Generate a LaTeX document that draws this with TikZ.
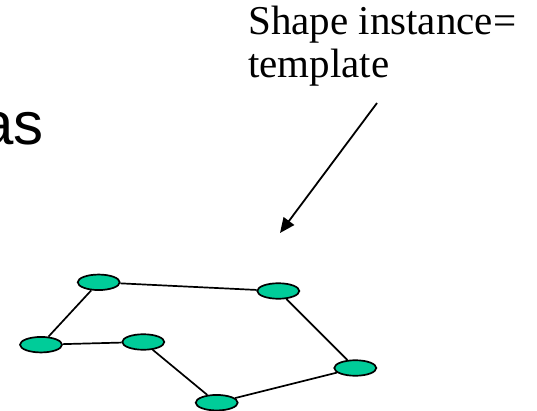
\documentclass[tikz,border=0pt]{standalone}
\usepackage{fontspec}
\setmainfont{Liberation Serif}
\setsansfont{Liberation Sans}
\usetikzlibrary{shapes.geometric,arrows.meta}
\definecolor{vertexgreen}{RGB}{0,204,153}
\tikzset{
  vertex/.style={ellipse, draw=black, line width=1.7pt, fill=vertexgreen,
                 minimum width=42pt, minimum height=15.5pt, inner sep=0pt},
  link/.style={draw=black, line width=1.7pt},
  pointer/.style={draw=black, line width=1.8pt, -{Triangle[length=15pt,width=13pt]}}
}
\begin{document}
\begin{tikzpicture}[x=1pt,y=-1pt]
  \useasboundingbox (0,0) rectangle (537,411);
  \clip (0,0) rectangle (537,411);

  % title fragment at the left edge
  \node[anchor=base east, inner sep=0pt, font=\sffamily\fontsize{60}{64}\selectfont]
    (title) at (44,145) {as};

  % callout text (anchored on the baseline of its last line)
  \node[anchor=base west, inner sep=0pt, align=left,
        font=\rmfamily\fontsize{41}{43}\selectfont]
    (callout) at (248,78) {Shape instance=\\template};

  % callout arrow
  \coordinate (ptail) at (377,103);
  \coordinate (phead) at (280,233);
  \draw[pointer] (ptail) -- (phead);

  % graph vertices
  \node[vertex] (n1) at (98.7,282.3) {};
  \node[vertex] (n2) at (278.3,291) {};
  \node[vertex] (n3) at (41,344.7) {};
  \node[vertex] (n4) at (143.3,342) {};
  \node[vertex] (n5) at (355.3,368) {};
  \node[vertex] (n6) at (216.7,402.7) {};

  % graph edges
  \draw[link] (n1) -- (n2);
  \draw[link] (n1) -- (n3);
  \draw[link] (n3) -- (n4);
  \draw[link] (n4) -- (n6);
  \draw[link] (n6) -- (n5);
  \draw[link] (n5) -- (n2);
\end{tikzpicture}
\end{document}
